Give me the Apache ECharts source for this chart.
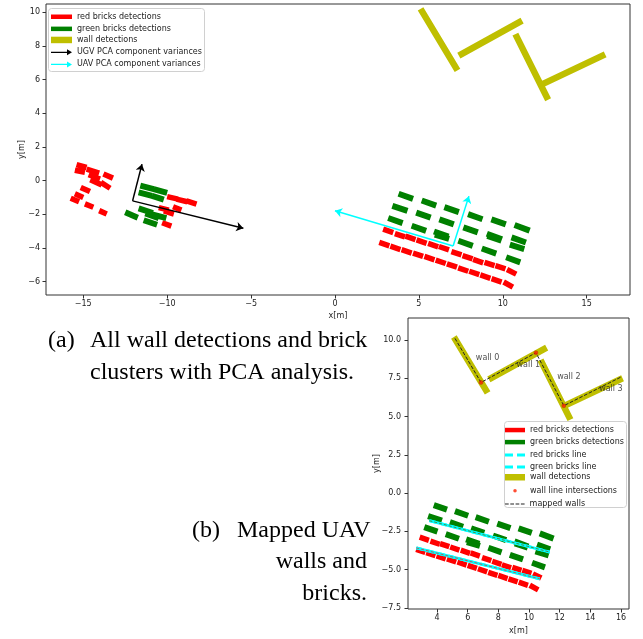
<!DOCTYPE html>
<html><head><meta charset="utf-8">
<script src="https://cdn.jsdelivr.net/npm/echarts@6/dist/echarts.min.js"></script>
<style>html,body{margin:0;padding:0;background:#fff}#c{width:643px;height:639px}</style>
</head><body><div id="c"></div>
<script>
// ---- tick values / labels ----
const topXTicks = [-15,-10,-5,0,5,10,15];
const topXLabels = ['−15','−10','−5','0','5','10','15'];
const topYTicks = [-6,-4,-2,0,2,4,6,8,10];
const topYLabels = ['−6','−4','−2','0','2','4','6','8','10'];
const botXTicks = [4,6,8,10,12,14,16];
const botXLabels = ['4','6','8','10','12','14','16'];
const botYTicks = [-7.5,-5,-2.5,0,2.5,5,7.5,10];
const botYLabels = ['−7.5','−5.0','−2.5','0.0','2.5','5.0','7.5','10.0'];

// ---- brick / wall segments [x1,y1,x2,y2] ----
const ugvRedBricks = [
  [-15.4,0.95,-14.8,0.78],[-15.5,0.62,-14.9,0.5],[-14.8,0.68,-14.05,0.45],
  [-14.68,0.35,-14.0,0.1],[-14.58,0.05,-13.9,-0.25],[-13.8,0.4,-13.23,0.15],
  [-13.95,-0.1,-13.4,-0.45],[-15.15,-0.4,-14.6,-0.65],[-15.5,-0.78,-15.0,-1.0],
  [-15.75,-1.04,-15.25,-1.25],[-14.9,-1.38,-14.4,-1.58],[-14.05,-1.78,-13.6,-1.98],
  [-10.0,-0.95,-9.35,-1.1],[-9.45,-1.1,-8.8,-1.25],[-8.85,-1.2,-8.25,-1.4],
  [-10.5,-1.6,-9.9,-1.75],[-10.2,-1.8,-9.6,-1.98],[-9.65,-1.55,-9.15,-1.75],
  [-10.3,-2.5,-9.75,-2.7]
];
const ugvGreenBricks = [
  [-11.6,-0.3,-10.8,-0.5],[-10.8,-0.5,-10.0,-0.72],[-11.7,-0.7,-10.9,-0.9],
  [-10.9,-0.9,-10.2,-1.12],[-12.5,-1.88,-11.75,-2.2],[-11.7,-1.65,-10.85,-1.92],
  [-11.3,-1.95,-10.5,-2.22],[-11.4,-2.35,-10.6,-2.62],[-10.9,-2.0,-10.05,-2.22]
];
const uavRedBricks = [
  [2.87,-2.88,3.47,-3.08],[3.57,-3.14,4.17,-3.34],[4.2,-3.3,4.8,-3.5],
  [4.86,-3.52,5.46,-3.72],[5.55,-3.73,6.15,-3.93],[6.19,-3.91,6.79,-4.11],
  [6.94,-4.21,7.54,-4.41],[7.6,-4.45,8.2,-4.65],[8.23,-4.68,8.83,-4.88],
  [8.91,-4.85,9.51,-5.05],[9.56,-5.04,10.16,-5.24],[10.25,-5.28,10.8,-5.55],
  [2.64,-3.67,3.24,-3.87],[3.3,-3.89,3.9,-4.09],[3.97,-4.1,4.57,-4.3],
  [4.65,-4.3,5.25,-4.5],[5.33,-4.5,5.93,-4.7],[6.0,-4.72,6.6,-4.92],
  [6.67,-4.94,7.27,-5.14],[7.34,-5.18,7.94,-5.38],[8.0,-5.38,8.6,-5.58],
  [8.66,-5.6,9.26,-5.8],[9.33,-5.82,9.93,-6.02],[10.05,-6.02,10.6,-6.32]
];
const uavGreenBricks = [
  [3.79,-0.78,4.65,-1.08],[5.17,-1.18,6.03,-1.48],[6.52,-1.57,7.38,-1.87],
  [7.93,-1.99,8.79,-2.29],[9.32,-2.3,10.18,-2.6],[10.7,-2.63,11.6,-2.97],
  [3.42,-1.5,4.32,-1.8],[4.84,-1.9,5.7,-2.2],[6.22,-2.3,7.08,-2.6],
  [7.65,-2.77,8.51,-3.07],[9.05,-3.15,9.95,-3.49],[9.08,-3.28,9.92,-3.56],
  [10.52,-3.37,11.38,-3.67],
  [3.17,-2.22,4.03,-2.52],[4.57,-2.68,5.43,-2.98],[5.9,-3.02,6.76,-3.32],
  [5.95,-3.2,6.8,-3.45],[7.35,-3.57,8.21,-3.87],[8.75,-4.03,9.61,-4.33],
  [10.42,-3.8,11.28,-4.06],[10.2,-4.55,11.04,-4.85]
];
const wallSegments = [
  [5.1,10.2,7.3,6.55],[7.38,7.43,11.15,9.5],[10.75,8.7,12.7,4.8],[12.3,5.7,16.1,7.5]
];
// ---- PCA arrows ----
const ugvPcaOrigin = [-12.06,-1.2];
const ugvPcaTips = [[-11.5,0.98],[-5.46,-2.83]];
const uavPcaOrigin = [7.04,-3.88];
const uavPcaTips = [[7.98,-0.92],[0.0,-1.79]];
// ---- mapped (bottom) ----
const redBricksLine = [[2.65,-3.58],[10.7,-5.6]];
const greenBricksLine = [[3.5,-1.8],[11.35,-3.85]];
const wallIntersections = [[6.87,7.23],[10.45,9.17],[12.27,5.71]];
const mappedWalls = [[5.17,10.11],[6.87,7.23],[10.45,9.17],[12.27,5.71],[16.03,7.6]];
const wallLabels = ['wall 0','wall 1','wall 2','wall 3'];
const wallLabelPos = [[7.3,8.85],[9.95,8.37],[12.6,7.6],[15.34,6.78]];

const RED='#ff0000', GREEN='#008000', WALL='#bfbf00', CYAN='#00ffff';
const FONT='DejaVu Sans';
const FS=8;

function segData(segs){const d=[];for(const s of segs){d.push([s[0],s[1]],[s[2],s[3]],['-','-']);}return d;}
function lineS(name,data,color,width,gi,extra){
  const s={type:'line',xAxisIndex:gi,yAxisIndex:gi,data:data,showSymbol:false,symbol:'none',
    lineStyle:{color:color,width:width,cap:'butt'},itemStyle:{color:color},
    emphasis:{disabled:true},silent:true,connectNulls:false,animation:false,z:2};
  if(name) s.name=name;
  return Object.assign(s,extra||{});
}
function arrowS(name,origin,tips,color){
  return {type:'lines',name:name,coordinateSystem:'cartesian2d',xAxisIndex:0,yAxisIndex:0,
    data:tips.map(t=>({coords:[origin,t]})),symbol:['none','arrow'],symbolSize:7,
    lineStyle:{color:color,width:1.5,opacity:1},itemStyle:{color:color},silent:true,z:5};
}
function fmt(ticks,labels){return v=>{const i=ticks.findIndex(t=>Math.abs(t-v)<1e-6);return i<0?'':labels[i];};}
function xAx(gi,min,max,ticks,labels,gap){
  return {type:'value',gridIndex:gi,min:min,max:max,name:'x[m]',nameLocation:'middle',nameGap:gap,nameMoveOverlap:false,
    nameTextStyle:{fontSize:FS,fontFamily:FONT,color:'#222'},
    axisLine:{show:false,onZero:false},splitLine:{show:false},
    axisTick:{show:true,length:3.5,lineStyle:{color:'#333'},customValues:ticks},
    axisLabel:{customValues:ticks,formatter:fmt(ticks,labels),margin:5,fontSize:FS,fontFamily:FONT,color:'#222'}};
}
function yAx(gi,min,max,ticks,labels,gap,margin){
  return {type:'value',gridIndex:gi,min:min,max:max,name:'y[m]',nameLocation:'middle',nameGap:gap,nameRotate:90,nameMoveOverlap:false,
    nameTextStyle:{fontSize:FS,fontFamily:FONT,color:'#222'},
    axisLine:{show:false,onZero:false},splitLine:{show:false},
    axisTick:{show:true,length:3.5,lineStyle:{color:'#333'},customValues:ticks},
    axisLabel:{customValues:ticks,formatter:fmt(ticks,labels),margin:margin,fontSize:FS,fontFamily:FONT,color:'#222'}};
}

const RW=5.5, GW=6, WW=6.5;
const series=[
  lineS('red bricks detections',segData(ugvRedBricks.concat(uavRedBricks)),RED,RW,0),
  lineS('green bricks detections',segData(ugvGreenBricks.concat(uavGreenBricks)),GREEN,GW,0),
  lineS('wall detections',segData(wallSegments),WALL,WW,0),
  arrowS('UGV PCA component variances',ugvPcaOrigin,ugvPcaTips,'#000'),
  arrowS('UAV PCA component variances',uavPcaOrigin,uavPcaTips,CYAN),
  // bottom
  lineS('red bricks detections',segData(uavRedBricks),RED,RW,1),
  lineS('green bricks detections',segData(uavGreenBricks),GREEN,GW,1),
  lineS('wall detections',segData(wallSegments),WALL,WW,1),
  lineS(null,redBricksLine,CYAN,2.8,1,{z:3}),
  lineS('red bricks line',redBricksLine,CYAN,2.8,1,{z:3,lineStyle:{color:CYAN,width:2.8,type:[7,4]}}),
  lineS(null,redBricksLine,'#b06060',1,1,{z:4,lineStyle:{color:'#b06060',width:1,type:[3,2]}}),
  lineS(null,greenBricksLine,CYAN,2.8,1,{z:3}),
  lineS('green bricks line',greenBricksLine,CYAN,2.8,1,{z:3,lineStyle:{color:CYAN,width:2.8,type:[7,4]}}),
  lineS(null,greenBricksLine,'#4a8a4a',1,1,{z:4,lineStyle:{color:'#4a8a4a',width:1,type:[3,2]}}),
  lineS('mapped walls',mappedWalls,'#222',1,1,{z:5,lineStyle:{color:'#222',width:1,type:[3.7,1.6]}}),
  {type:'scatter',name:'wall line intersections',xAxisIndex:1,yAxisIndex:1,data:wallIntersections,
    symbolSize:4,itemStyle:{color:'#ff2000',borderColor:'#b03000',borderWidth:0.5},silent:true,z:6},
  {type:'scatter',xAxisIndex:1,yAxisIndex:1,symbolSize:1,itemStyle:{color:'rgba(0,0,0,0)'},silent:true,z:7,
    data:wallLabels.map((n,i)=>({name:n,value:wallLabelPos[i]})),
    label:{show:true,position:'inside',formatter:'{b}',fontSize:FS,fontFamily:FONT,color:'#222'}}
];

// ---- per-item legends ----
const arrowIcon='path://M0,2.4H16V0L21,3L16,6V3.6H0Z';
const dashIcon='path://M0,0H8V3H0Z M12,0H20V3H12Z';
const thinDash='path://M0,0H3.7V1H0Z M5.3,0H9V1H5.3Z M10.6,0H14.3V1H10.6Z M15.9,0H19.6V1H15.9Z';
// [name, icon, width, height, colour, left offset of icon's drawn box]
const topLeg=[
  ['red bricks detections','rect',21,4.5,RED,0],
  ['green bricks detections','rect',21,4.5,GREEN,0],
  ['wall detections','rect',21,6.5,WALL,0],
  ['UGV PCA component variances',arrowIcon,21,6,'#000',0],
  ['UAV PCA component variances',arrowIcon,21,6,CYAN,0]
];
const botLeg=[
  ['red bricks detections','rect',20,4.5,RED,0],
  ['green bricks detections','rect',20,4.5,GREEN,0],
  ['red bricks line',dashIcon,20,3,CYAN,0],
  ['green bricks line',dashIcon,20,3,CYAN,0],
  ['wall detections','rect',20,6.5,WALL,0],
  ['wall line intersections','circle',20,3.5,'#ff2000',8.25],
  ['mapped walls',thinDash,19.6,1,'#222',0]
];
const legends=[];
function addLeg(list,left,y0,dy){
  list.forEach((it,i)=>{
    const yc=y0+dy*i;
    legends.push({show:true,selectedMode:false,left:left+it[5],top:yc-it[3]/2,padding:0,
      itemWidth:it[2],itemHeight:it[3],symbolKeepAspect:false,
      textStyle:{fontSize:FS,fontFamily:FONT,color:'#222',padding:[0,0,0,0]},
      data:[{name:it[0],icon:it[1],itemStyle:{color:it[4],borderWidth:0}}],z:10});
  });
}
addLeg(topLeg,51,15,12.1);
addLeg(botLeg,505,428.3,12.05);

const SERIF='"Liberation Serif", "Times New Roman", serif';
function cap(text,x,y,align){return {type:'text',x:x,y:y,z:20,style:{text:text,font:'24px '+SERIF,fill:'#000',align:align||'left',verticalAlign:'middle'}};}

const option={
  animation:false,
  grid:[
    {left:46,top:4,width:584,height:291,show:true,borderColor:'#333',borderWidth:1,backgroundColor:'transparent'},
    {left:408,top:318,width:221,height:291,show:true,borderColor:'#333',borderWidth:1,backgroundColor:'transparent'}
  ],
  xAxis:[xAx(0,-17.22,17.58,topXTicks,topXLabels,16.5),xAx(1,2.108,16.52,botXTicks,botXLabels,18)],
  yAxis:[yAx(0,-6.79,10.49,topYTicks,topYLabels,20.5,6),yAx(1,-7.57,11.44,botYTicks,botYLabels,27,7)],
  legend:legends,
  graphic:[
    {type:'rect',z:8,shape:{x:48.5,y:8.5,width:156,height:63,r:3},style:{fill:'rgba(255,255,255,0.8)',stroke:'#d0d0d0',lineWidth:1}},
    {type:'rect',z:8,shape:{x:504.5,y:421.5,width:122,height:86,r:3},style:{fill:'rgba(255,255,255,0.8)',stroke:'#d0d0d0',lineWidth:1}},
    cap('(a)',48,341),
    cap('All wall detections and brick',90,341),
    cap('clusters with PCA analysis.',90,373),
    cap('(b)',192,531),
    cap('Mapped UAV',237,531),
    cap('walls and',367,562,'right'),
    cap('bricks.',367,594,'right')
  ],
  series:series
};
const chart=echarts.init(document.getElementById('c'),null,{renderer:'canvas'});
chart.setOption(option);
</script></body></html>
